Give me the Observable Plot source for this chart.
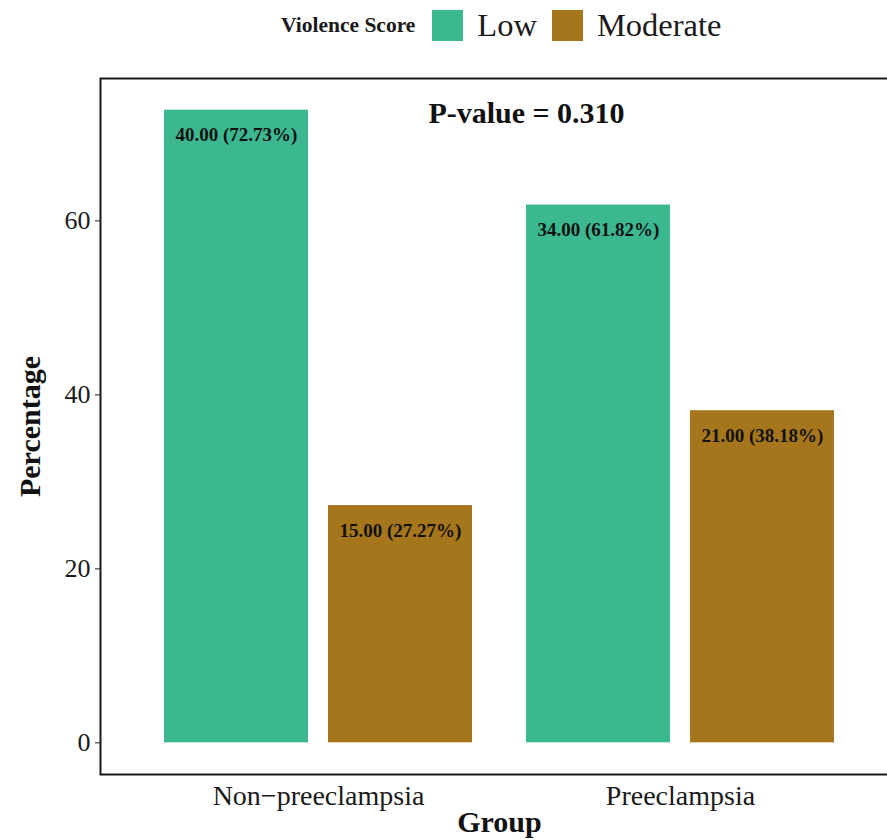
<!DOCTYPE html>
<html>
<head>
<meta charset="utf-8">
<script src="https://cdn.jsdelivr.net/npm/d3@7"></script>
<script src="https://cdn.jsdelivr.net/npm/@observablehq/plot@0.6"></script>
<style>
  html, body { margin: 0; padding: 0; background: #fff; overflow: hidden; width: 887px; height: 840px; }
  #legend { position: relative; height: 50px; font-family: "Liberation Serif", "Times New Roman", serif; color: #1a1a1a; }
  #legend .inner { position: absolute; left: 281px; top: 0; height: 50px; display: flex; align-items: center; }
  #legend .title { font-size: 21.5px; font-weight: bold; margin-right: 17px; }
  #legend .sw { width: 31px; height: 31px; margin-right: 14px; }
  #legend .lab { font-size: 32.5px; margin-right: 15px; }
</style>
</head>
<body>
<div id="legend"></div>
<div id="chart"></div>
<script>
// ---- data ----
const groups = ["Non\u2212preeclampsia", "Preeclampsia"];
const scores = ["Low", "Moderate"];
const lowCounts = [40, 34];
const lowPct = [72.73, 61.82];
const modCounts = [15, 21];
const modPct = [27.27, 38.18];
const yTicks = [0, 20, 40, 60];
const colors = ["#3cb891", "#a6761d"];
const pValueText = "P-value = 0.310";
const legendTitle = "Violence Score";
const xTitle = "Group";
const yTitle = "Percentage";

const rows = [];
groups.forEach((g, i) => {
  rows.push({group: g, score: "Low", count: lowCounts[i], pct: lowPct[i]});
  rows.push({group: g, score: "Moderate", count: modCounts[i], pct: modPct[i]});
});
const lowRows = rows.filter(d => d.score === "Low");
const modRows = rows.filter(d => d.score === "Moderate");
const fmt = d => `${d.count.toFixed(2)} (${d.pct.toFixed(2)}%)`;

// ---- legend (HTML) ----
const leg = document.createElement("div");
leg.className = "inner";
const t = document.createElement("span");
t.className = "title"; t.textContent = legendTitle; leg.appendChild(t);
scores.forEach((s, i) => {
  const sw = document.createElement("span");
  sw.className = "sw"; sw.style.background = colors[i]; leg.appendChild(sw);
  const l = document.createElement("span");
  l.className = "lab"; l.textContent = s; leg.appendChild(l);
});
document.getElementById("legend").appendChild(leg);

// ---- chart ----
const font = "'Liberation Serif', 'Times New Roman', serif";
const chart = Plot.plot({
  width: 887,
  height: 790,
  marginLeft: 100,
  marginRight: -11,
  marginTop: 28,
  marginBottom: 66,
  style: {fontFamily: font, background: "#fff", overflow: "hidden", color: "#1a1a1a"},
  x: {domain: groups, paddingInner: 54 / 363, paddingOuter: 63 / 363, label: null},
  y: {domain: [-3.64, 76.37], label: null},
  color: {domain: scores, range: colors},
  marks: [
    Plot.barY(lowRows, {x: "group", y: "pct", fill: "score", insetRight: 164}),
    Plot.barY(modRows, {x: "group", y: "pct", fill: "score", insetLeft: 164}),
    Plot.text(lowRows, {x: "group", y: "pct", text: fmt, dx: -82, dy: 25, fontSize: 19, fontWeight: "bold", fill: "#111", lineAnchor: "middle"}),
    Plot.text(modRows, {x: "group", y: "pct", text: fmt, dx: 82, dy: 25, fontSize: 19, fontWeight: "bold", fill: "#111", lineAnchor: "middle"}),
    Plot.text([pValueText], {frameAnchor: "top", text: d => d, dx: 27, dy: 35, fontSize: 30, fontWeight: "bold", fill: "#111", lineAnchor: "middle"}),
    Plot.axisY({ticks: yTicks, tickSize: 5, tickPadding: 5, fontSize: 26, label: null}),
    Plot.axisX({tickSize: 0, tickPadding: 11, fontSize: 28, label: null}),
    Plot.text([yTitle], {frameAnchor: "left", text: d => d, rotate: -90, dx: -70, fontSize: 30, fontWeight: "bold", fill: "#111", textAnchor: "middle", lineAnchor: "middle"}),
    Plot.text([xTitle], {frameAnchor: "bottom", text: d => d, dy: 48, fontSize: 30, fontWeight: "bold", fill: "#111", textAnchor: "middle", lineAnchor: "middle"}),
    Plot.frame({stroke: "#1a1a1a", strokeWidth: 2})
  ]
});
document.getElementById("chart").appendChild(chart);
</script>
</body>
</html>
